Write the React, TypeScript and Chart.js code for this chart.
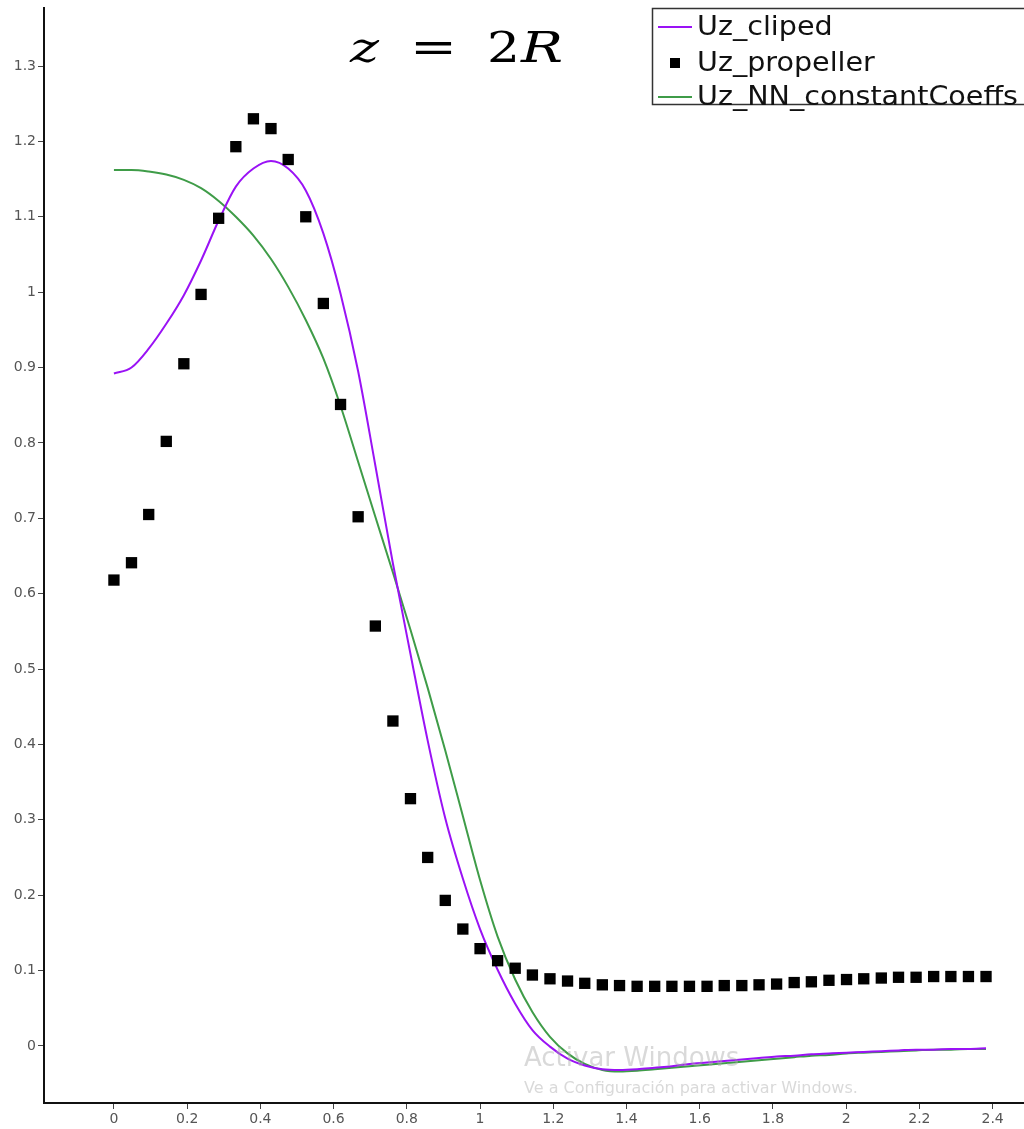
import React, { useEffect, useRef } from "react";
import { Chart, registerables } from "chart.js";

Chart.register(...registerables);

const rValues = [
  0, 0.048, 0.095, 0.143, 0.191, 0.238, 0.286, 0.333, 0.381, 0.429, 0.476,
  0.524, 0.572, 0.619, 0.667, 0.714, 0.762, 0.81, 0.857, 0.905, 0.953, 1.0,
  1.048, 1.096, 1.143, 1.191, 1.239, 1.286, 1.334, 1.381, 1.429, 1.477, 1.524,
  1.572, 1.62, 1.667, 1.715, 1.762, 1.81, 1.858, 1.905, 1.953, 2.001, 2.048,
  2.096, 2.143, 2.191, 2.239, 2.286, 2.334, 2.382,
];

const uzCliped = [
  0.892, 0.9, 0.925, 0.958, 0.996, 1.042, 1.095, 1.14, 1.164, 1.174, 1.164,
  1.135, 1.078, 0.998, 0.895, 0.77, 0.64, 0.52, 0.405, 0.302, 0.222, 0.155,
  0.101, 0.056, 0.021, -0.001, -0.017, -0.026, -0.031, -0.032, -0.031, -0.029,
  -0.027, -0.024, -0.022, -0.02, -0.018, -0.016, -0.014, -0.013, -0.011,
  -0.01, -0.009, -0.008, -0.007, -0.006, -0.005, -0.005, -0.004, -0.004,
  -0.003,
];

const uzPropeller = [
  0.618, 0.641, 0.705, 0.802, 0.905, 0.997, 1.098, 1.193, 1.23, 1.217, 1.176,
  1.1, 0.985, 0.851, 0.702, 0.557, 0.431, 0.328, 0.25, 0.193, 0.155, 0.129,
  0.113, 0.103, 0.094, 0.089, 0.086, 0.083, 0.081, 0.08, 0.079, 0.079, 0.079,
  0.079, 0.079, 0.08, 0.08, 0.081, 0.082, 0.084, 0.085, 0.087, 0.088, 0.089,
  0.09, 0.091, 0.091, 0.092, 0.092, 0.092, 0.092,
];

const uzNN = [
  1.162, 1.162, 1.16, 1.156, 1.149, 1.138, 1.121, 1.1, 1.075, 1.044, 1.007,
  0.963, 0.912, 0.849, 0.775, 0.702, 0.628, 0.552, 0.475, 0.392, 0.305, 0.22,
  0.145, 0.088, 0.045, 0.012, -0.01, -0.024, -0.032, -0.034, -0.033, -0.031,
  -0.029, -0.027, -0.025, -0.023, -0.021, -0.019, -0.017, -0.015, -0.013,
  -0.012, -0.01, -0.009, -0.008, -0.007, -0.006, -0.005, -0.005, -0.004,
  -0.004,
];

const seriesLabels = ["Uz_cliped", "Uz_propeller", "Uz_NN_constantCoeffs"];

const xTickValues = [0, 0.2, 0.4, 0.6, 0.8, 1, 1.2, 1.4, 1.6, 1.8, 2, 2.2, 2.4];
const xTickLabels = ["0", "0.2", "0.4", "0.6", "0.8", "1", "1.2", "1.4", "1.6", "1.8", "2", "2.2", "2.4"];
const yTickValues = [0, 0.1, 0.2, 0.3, 0.4, 0.5, 0.6, 0.7, 0.8, 0.9, 1, 1.1, 1.2, 1.3];
const yTickLabels = ["0", "0.1", "0.2", "0.3", "0.4", "0.5", "0.6", "0.7", "0.8", "0.9", "1", "1.1", "1.2", "1.3"];

const titleParts = [
  { text: "z", italic: true },
  { text: "=", italic: false },
  { text: "2", italic: false },
  { text: "R", italic: true },
];
const watermarkLines = ["Activar Windows", "Ve a Configuración para activar Windows."];

const PURPLE = "#9a12f5";
const GREEN = "#3f9c48";
const TICK_FONT = { family: "'DejaVu Sans', sans-serif", size: 14 };

const overlayPlugin = {
  id: "overlay",
  afterDatasetsDraw(chart: any) {
    const ctx = chart.ctx as CanvasRenderingContext2D;
    ctx.save();
    ctx.fillStyle = "rgba(170,170,170,0.45)";
    ctx.textBaseline = "alphabetic";
    ctx.textAlign = "left";
    ctx.font = "26px 'DejaVu Sans', sans-serif";
    ctx.fillText(watermarkLines[0], 524, 1066);
    ctx.font = "16px 'DejaVu Sans', sans-serif";
    ctx.fillText(watermarkLines[1], 524, 1093);
    ctx.restore();
  },
  afterDraw(chart: any) {
    const ctx = chart.ctx as CanvasRenderingContext2D;
    ctx.save();
    // title
    ctx.fillStyle = "#000";
    ctx.textBaseline = "alphabetic";
    ctx.textAlign = "left";
    const base = 62;
    const starts = [350, 410, 487, 521];
    const widths = [29, 47, 33, 42];
    titleParts.forEach((p, i) => {
      ctx.font = (p.italic ? "italic " : "") + "43px 'DejaVu Serif', serif";
      const w = ctx.measureText(p.text).width;
      ctx.save();
      ctx.translate(starts[i], base);
      ctx.scale(widths[i] / w, 1);
      ctx.fillText(p.text, 0, 0);
      ctx.restore();
    });

    // legend
    ctx.fillStyle = "#fff";
    ctx.fillRect(652, 8, 400, 96);
    ctx.strokeStyle = "#333";
    ctx.lineWidth = 1.5;
    ctx.strokeRect(652.5, 8.5, 400, 96);
    const rows = [27, 63, 97];
    ctx.font = "26px 'DejaVu Sans', sans-serif";
    const longest = Math.max(
      ...chart.data.datasets.map((d: any) => ctx.measureText(d.label).width)
    );
    const sx = 321 / longest;
    chart.data.datasets.forEach((ds: any, i: number) => {
      const y = rows[i];
      if (ds.showLine === false) {
        ctx.fillStyle = "#000";
        ctx.fillRect(670, y - 5, 10, 10);
      } else {
        ctx.strokeStyle = ds.borderColor;
        ctx.lineWidth = 2;
        ctx.beginPath();
        ctx.moveTo(658, y);
        ctx.lineTo(692, y);
        ctx.stroke();
      }
      ctx.fillStyle = "#111";
      ctx.textBaseline = "middle";
      ctx.save();
      ctx.translate(697, y + 1);
      ctx.scale(sx, 1);
      ctx.fillText(ds.label, 0, 0);
      ctx.restore();
    });
    ctx.restore();
  },
};

export default function App() {
  const canvasRef = useRef<HTMLCanvasElement | null>(null);

  useEffect(() => {
    if (!canvasRef.current) return;
    const toPts = (ys: number[]) => rValues.map((x, i) => ({ x, y: ys[i] }));
    const chart = new Chart(canvasRef.current, {
      type: "line",
      data: {
        datasets: [
          {
            label: seriesLabels[0],
            data: toPts(uzCliped),
            borderColor: PURPLE,
            backgroundColor: PURPLE,
            borderWidth: 2,
            pointRadius: 0,
            cubicInterpolationMode: "monotone",
            order: 1,
          },
          {
            label: seriesLabels[1],
            data: toPts(uzPropeller),
            showLine: false,
            borderColor: "#000",
            backgroundColor: "#000",
            pointStyle: "rect",
            pointRadius: 8,
            pointBorderWidth: 0,
            order: 0,
          },
          {
            label: seriesLabels[2],
            data: toPts(uzNN),
            borderColor: GREEN,
            backgroundColor: GREEN,
            borderWidth: 2,
            pointRadius: 0,
            cubicInterpolationMode: "monotone",
            order: 2,
          },
        ],
      } as any,
      options: {
        animation: false,
        responsive: false,
        events: [],
        layout: { padding: { top: 8, left: 0, right: 0, bottom: 0 } },
        plugins: {
          legend: { display: false },
          tooltip: { enabled: false },
          title: { display: false },
        },
        scales: {
          x: {
            type: "linear",
            min: -0.191,
            max: 2.483,
            afterBuildTicks: (s: any) => {
              s.ticks = xTickValues.map((v) => ({ value: v }));
            },
            afterFit: (s: any) => {
              s.height = 26;
              s.paddingLeft = 0;
              s.paddingRight = 0;
            },
            ticks: {
              autoSkip: false,
              maxRotation: 0,
              padding: 2,
              color: "#555",
              font: TICK_FONT,
              callback: (v: any) => {
                const i = xTickValues.findIndex((t) => Math.abs(t - v) < 1e-9);
                return i >= 0 ? xTickLabels[i] : "";
              },
            },
            grid: {
              drawOnChartArea: false,
              drawTicks: true,
              tickLength: 6,
              color: "#444",
            },
            border: { display: true, color: "#111", width: 2 },
          },
          y: {
            type: "linear",
            min: -0.0758,
            max: 1.377,
            afterBuildTicks: (s: any) => {
              s.ticks = yTickValues.map((v) => ({ value: v }));
            },
            afterFit: (s: any) => {
              s.width = 44;
              s.paddingTop = 0;
              s.paddingBottom = 0;
            },
            ticks: {
              autoSkip: false,
              padding: 2,
              color: "#555",
              font: TICK_FONT,
              callback: (v: any) => {
                const i = yTickValues.findIndex((t) => Math.abs(t - v) < 1e-9);
                return i >= 0 ? yTickLabels[i] : "";
              },
            },
            grid: {
              drawOnChartArea: false,
              drawTicks: true,
              tickLength: 6,
              color: "#444",
            },
            border: { display: true, color: "#111", width: 2 },
          },
        },
      } as any,
      plugins: [overlayPlugin],
    });
    return () => chart.destroy();
  }, []);

  return (
    <div
      style={{
        position: "absolute",
        left: 0,
        top: 0,
        width: 1024,
        height: 1129,
        background: "#fff",
        overflow: "hidden",
      }}
    >
      <canvas ref={canvasRef} width={1031} height={1129} style={{ display: "block" }} />
    </div>
  );
}
